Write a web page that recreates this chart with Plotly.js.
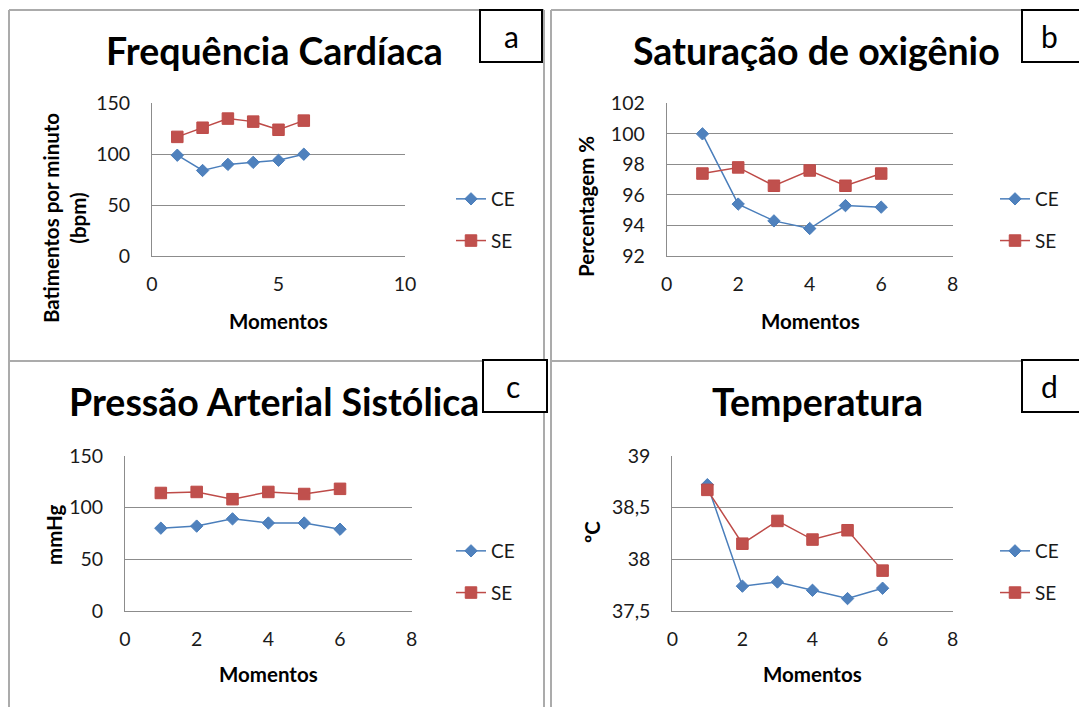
<!DOCTYPE html>
<html>
<head>
<meta charset="utf-8">
<script src="https://cdn.plot.ly/plotly-3.0.1.min.js"></script>
<style>html,body{margin:0;padding:0;background:#fff;}#chart{width:1079px;height:707px;}</style>
</head>
<body>
<div id="chart"></div>
<script>
// ---- data ----
const momentos = [1, 2, 3, 4, 5, 6];
const seriesNames = ['CE', 'SE'];
const fcCE = [99, 84, 90, 92, 94, 100];
const fcSE = [117, 126, 135, 132, 124, 133];
const satCE = [100, 95.4, 94.3, 93.8, 95.3, 95.2];
const satSE = [97.4, 97.8, 96.6, 97.6, 96.6, 97.4];
const pasCE = [80, 82, 89, 85, 85, 79];
const pasSE = [114, 115, 108, 115, 113, 118];
const tempCE = [38.72, 37.74, 37.78, 37.70, 37.62, 37.72];
const tempSE = [38.67, 38.15, 38.37, 38.19, 38.28, 37.89];
const titles = ['Frequência Cardíaca', 'Saturação de oxigênio', 'Pressão Arterial Sistólica', 'Temperatura'];
const yTitles = ['Batimentos por minuto<br>(bpm)', 'Percentagem %', 'mmHg', 'ºC'];
const xTitle = 'Momentos';
const letters = ['a', 'b', 'c', 'd'];

// ---- helpers ----
const W = 1079, H = 707;
const X = px => px / W;
const Y = py => 1 - py / H;

const blue = '#4A7EBB', blueFill = '#4F81BD';
const red = '#BE4B48', redFill = '#C0504D';
const gridC = '#8C8C8C';
const FONT = 'Lato, "Open Sans", sans-serif';

function ceTrace(y, i) {
  return {
    x: momentos, y: y, name: seriesNames[0], mode: 'lines+markers',
    xaxis: 'x' + (i === 1 ? '' : i), yaxis: 'y' + (i === 1 ? '' : i),
    legend: 'legend' + (i === 1 ? '' : i), legendgroup: 'ce' + i,
    line: {color: blue, width: 1.5},
    marker: {symbol: 'diamond', size: 9.5, color: blueFill, line: {color: blue, width: 1}},
    cliponaxis: false
  };
}
function seTrace(y, i) {
  return {
    x: momentos, y: y, name: seriesNames[1], mode: 'lines+markers',
    xaxis: 'x' + (i === 1 ? '' : i), yaxis: 'y' + (i === 1 ? '' : i),
    legend: 'legend' + (i === 1 ? '' : i), legendgroup: 'se' + i,
    line: {color: red, width: 1.5},
    marker: {symbol: 'square', size: 11.5, color: redFill, line: {color: red, width: 1}},
    cliponaxis: false
  };
}

const data = [
  ceTrace(fcCE, 1), seTrace(fcSE, 1),
  ceTrace(satCE, 2), seTrace(satSE, 2),
  ceTrace(pasCE, 3), seTrace(pasSE, 3),
  ceTrace(tempCE, 4), seTrace(tempSE, 4)
];

const TICKFONT = {family: FONT, size: 19.5, color: '#1a1a1a'};
function xax(d0, d1, range, dtick, anchor) {
  return {
    domain: [X(d0), X(d1)], range: range, dtick: dtick, tick0: 0, anchor: anchor,
    showgrid: false, zeroline: false, showline: true, linecolor: gridC, linewidth: 1,
    ticks: '', ticklabelstandoff: 11,
    tickfont: TICKFONT, fixedrange: true
  };
}
function yax(d0, d1, range, dtick, anchor) {
  return {
    domain: [Y(d1), Y(d0)], range: range, dtick: dtick, tick0: range[0], anchor: anchor,
    showgrid: true, gridcolor: gridC, gridwidth: 1, zeroline: false,
    showline: true, linecolor: gridC, linewidth: 1,
    ticks: '', ticklabelstandoff: 17,
    tickfont: TICKFONT, fixedrange: true
  };
}

function legendAt(left, top) {
  return {
    x: X(left), y: Y(top), xanchor: 'left', yanchor: 'top',
    bgcolor: 'rgba(0,0,0,0)', borderwidth: 0, tracegroupgap: 14,
    font: {family: FONT, size: 19, color: '#1a1a1a'}
  };
}

const borderC = '#ABABAB';
const shapes = [];
function line(x0, y0, x1, y1, color, w) {
  shapes.push({type: 'line', xref: 'paper', yref: 'paper', x0: X(x0), y0: Y(y0), x1: X(x1), y1: Y(y1),
    line: {color: color, width: w}, layer: 'above'});
}
// panel borders
line(9, 10, 9, 707, borderC, 2);
line(9, 10, 544, 10, borderC, 2);
line(544, 10, 544, 707, borderC, 2);
line(9, 361, 544, 361, borderC, 2);
line(551, 10, 551, 707, borderC, 2);
line(551, 10, 1079, 10, borderC, 2);
line(551, 361, 1079, 361, borderC, 2);
// letter boxes
const boxes = [[480, 10, 542, 62], [1022, 10, 1090, 62], [483, 360, 547, 412], [1022, 360, 1090, 412]];
boxes.forEach(b => shapes.push({type: 'rect', xref: 'paper', yref: 'paper',
  x0: X(b[0]), y0: Y(b[3]), x1: X(b[2]), y1: Y(b[1]),
  line: {color: '#000', width: 2}, fillcolor: '#fff', layer: 'above'}));

const annotations = [];
function ann(text, x, y, size, bold, angle) {
  annotations.push({text: bold ? '<b>' + text + '</b>' : text, xref: 'paper', yref: 'paper',
    x: X(x), y: Y(y), xanchor: 'center', yanchor: 'middle', showarrow: false,
    textangle: angle || 0, font: {family: FONT, size: size, color: '#000'}});
}
// titles
ann(titles[0], 274, 50, 37.5, true);
ann(titles[1], 816, 50, 37.5, true);
ann(titles[2], 274, 401, 37.5, true);
ann(titles[3], 817, 401, 37.5, true);
// letters
ann(letters[0], 511, 36, 30, false);
ann(letters[1], 1049, 36, 30, false);
ann(letters[2], 513, 386, 30, false);
ann(letters[3], 1049, 386, 30, false);
// x titles
ann(xTitle, 278, 321, 20.5, true);
ann(xTitle, 810, 321, 20.5, true);
ann(xTitle, 268, 674, 20.5, true);
ann(xTitle, 812, 674, 20.5, true);
// y titles
ann(yTitles[0], 64, 218, 20.5, true, -90);
ann(yTitles[1], 586, 207, 20.5, true, -90);
ann(yTitles[2], 54, 535, 20.5, true, -90);
ann(yTitles[3], 592, 532, 20.5, true, -90);

const layout = {
  width: W, height: H, margin: {l: 0, r: 0, t: 0, b: 0},
  paper_bgcolor: '#fff', plot_bgcolor: '#fff',
  separators: ', ',
  font: {family: FONT, color: '#000'},
  xaxis: xax(152, 405, [0, 10], 5, 'y'),
  yaxis: yax(103.3, 256, [0, 150], 50, 'x'),
  xaxis2: xax(666.7, 952.7, [0, 8], 2, 'y2'),
  yaxis2: yax(103.3, 256, [92, 102], 2, 'x2'),
  xaxis3: xax(125, 411.7, [0, 8], 2, 'y3'),
  yaxis3: yax(455.7, 611, [0, 150], 50, 'x3'),
  xaxis4: xax(672.3, 952.7, [0, 8], 2, 'y4'),
  yaxis4: yax(455.7, 611, [37.5, 39], 0.5, 'x4'),
  showlegend: true,
  legend: legendAt(451, 180),
  legend2: legendAt(995, 180),
  legend3: legendAt(451, 532),
  legend4: legendAt(995, 532),
  shapes: shapes,
  annotations: annotations
};

Plotly.newPlot('chart', data, layout, {displayModeBar: false, staticPlot: true});
</script>
</body>
</html>
